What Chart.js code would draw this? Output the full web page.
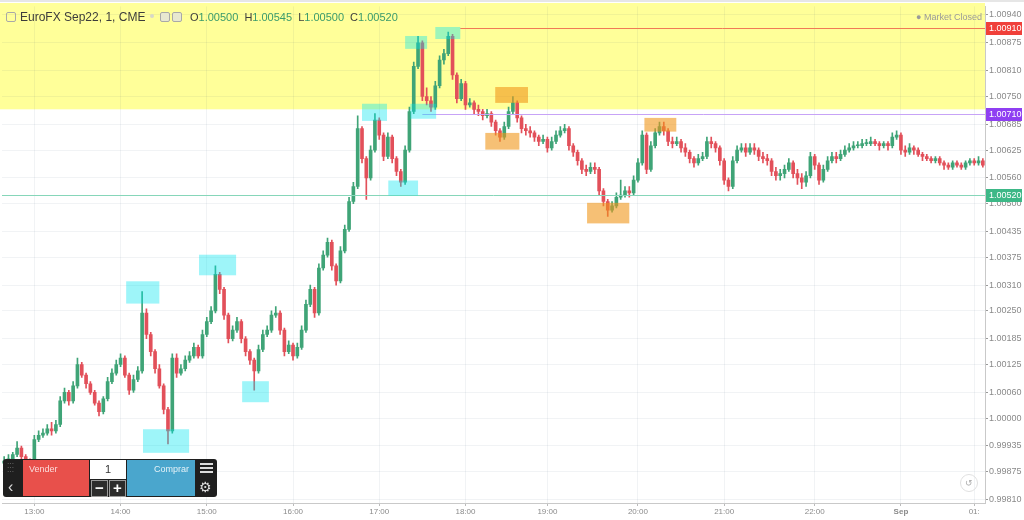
<!DOCTYPE html>
<html>
<head>
<meta charset="utf-8">
<script src="https://cdn.jsdelivr.net/npm/chart.js@4.4.1/dist/chart.umd.min.js"></script>
<style>
  html, body { margin: 0; padding: 0; background: #fff; }
  #wrap { position: relative; width: 1024px; height: 520px; overflow: hidden; font-family: "Liberation Sans", Arial, sans-serif; }
  #chart { position: absolute; left: 0; top: 0; }
  .abs { position: absolute; white-space: nowrap; }
  #title { left: 20px; top: 10px; font-size: 12px; color: #3c3c3c; }
  #ohlc { left: 190px; top: 11px; font-size: 11px; color: #3c3c3c; word-spacing: 3px; }
  #ohlc b { font-weight: normal; color: #3a9b6c; }
  #closed { left: 916px; top: 12px; font-size: 9px; color: #9a9a9a; }
  .icon { border: 1px solid #a8a8a8; border-radius: 2px; }
  #trade { left: 3px; top: 459px; width: 214px; height: 38px; background: #1f1f1f; border-radius: 3px; }
  #sell { left: 23px; top: 460px; width: 66px; height: 36px; background: #e8504b; color: rgba(255,255,255,0.8); font-size: 9px; }
  #buy { left: 127px; top: 460px; width: 68px; height: 36px; background: #4aa6cd; color: rgba(255,255,255,0.85); font-size: 9px; }
  #qty { left: 90px; top: 460px; width: 36px; height: 19px; background: #fff; color: #333; font-size: 11px; text-align: center; line-height: 19px; }
  .pm { top: 480px; width: 15px; height: 15px; background: #2c2c2c; border: 1px solid #9a9a9a; color: #fff; font-size: 15px; font-weight: bold; text-align: center; line-height: 14px; }
  #reset { left: 960px; top: 474px; width: 16px; height: 16px; border: 1px solid #e0e0e0; border-radius: 50%; color: #aaa; font-size: 9px; text-align: center; line-height: 16px; }
</style>
</head>
<body>
<div id="wrap">
  <canvas id="chart" width="1024" height="520"></canvas>
  <div class="abs icon" style="left:6px;top:12px;width:8px;height:8px;"></div>
  <div class="abs" id="title">EuroFX Sep22, 1, CME</div>
  <div class="abs" style="left:150px;top:14px;width:4px;height:4px;border-radius:50%;background:#d8d8c8;"></div>
  <div class="abs icon" style="left:160px;top:12px;width:8px;height:8px;background:#e8e8d0;"></div>
  <div class="abs icon" style="left:172px;top:12px;width:8px;height:8px;background:#e8e8d0;"></div>
  <div class="abs" id="ohlc"></div>
  <div class="abs" id="closed">&#9679; Market Closed</div>

  <div class="abs" id="trade"></div>
  <div class="abs" style="left:7px;top:462px;color:#777;font-size:7px;line-height:4px;">&#183;&#183;&#183;<br>&#183;&#183;&#183;<br>&#183;&#183;&#183;</div>
  <div class="abs" style="left:8px;top:478px;color:#ddd;font-size:16px;">&#8249;</div>
  <div class="abs" id="sell"><span style="position:absolute;left:6px;top:4px;">Vender</span></div>
  <div class="abs" id="qty">1</div>
  <div class="abs pm" style="left:91px;">&#8722;</div>
  <div class="abs pm" style="left:109px;">+</div>
  <div class="abs" id="buy"><span style="position:absolute;right:6px;top:4px;">Comprar</span></div>
  <div class="abs" style="left:200px;top:463px;width:13px;height:2px;background:#ddd;box-shadow:0 4px 0 #ddd,0 8px 0 #ddd;"></div>
  <div class="abs" style="left:199px;top:479px;color:#ddd;font-size:14px;">&#9881;</div>
  <div class="abs" id="reset">&#8634;</div>
</div>
<script>
// one-minute candles, 13:00 -> 01:00
const opens = [
  0.99895, 0.99900, 0.99905, 0.99915, 0.99930, 0.99910, 0.99900, 0.99890, 0.99950, 0.99960,
  0.99965, 0.99975, 0.99970, 0.99985, 1.00040, 1.00060, 1.00040, 1.00075, 1.00125, 1.00100,
  1.00080, 1.00060, 1.00035, 1.00015, 1.00045, 1.00085, 1.00105, 1.00125, 1.00140, 1.00100,
  1.00065, 1.00090, 1.00110, 1.00245, 1.00195, 1.00155, 1.00115, 1.00075, 1.00020, 0.99970,
  1.00140, 1.00105, 1.00115, 1.00135, 1.00145, 1.00165, 1.00145, 1.00195, 1.00225, 1.00250,
  1.00335, 1.00300, 1.00240, 1.00185, 1.00205, 1.00225, 1.00185, 1.00155, 1.00135, 1.00110,
  1.00160, 1.00195, 1.00205, 1.00240, 1.00245, 1.00205, 1.00155, 1.00170, 1.00145, 1.00165,
  1.00205, 1.00265, 1.00300, 1.00245, 1.00350, 1.00380, 1.00410, 1.00355, 1.00320, 1.00390,
  1.00440, 1.00505, 1.00540, 1.00675, 1.00605, 1.00560, 1.00625, 1.00695, 1.00660, 1.00610,
  1.00655, 1.00605, 1.00575, 1.00550, 1.00625, 1.00715, 1.00820, 1.00875, 1.00750, 1.00740,
  1.00725, 1.00775, 1.00835, 1.00850, 1.00890, 1.00800, 1.00745, 1.00780, 1.00730, 1.00735,
  1.00720, 1.00715, 1.00705, 1.00710, 1.00690, 1.00670, 1.00655, 1.00680, 1.00715, 1.00735,
  1.00700, 1.00675, 1.00670, 1.00665, 1.00655, 1.00645, 1.00650, 1.00630, 1.00645, 1.00660,
  1.00670, 1.00675, 1.00635, 1.00620, 1.00600, 1.00580, 1.00575, 1.00585, 1.00580, 1.00530,
  1.00505, 1.00485, 1.00495, 1.00515, 1.00520, 1.00530, 1.00525, 1.00555, 1.00595, 1.00660,
  1.00580, 1.00635, 1.00665, 1.00680, 1.00670, 1.00645, 1.00640, 1.00645, 1.00630, 1.00620,
  1.00605, 1.00595, 1.00605, 1.00610, 1.00645, 1.00640, 1.00630, 1.00600, 1.00555, 1.00540,
  1.00600, 1.00625, 1.00630, 1.00620, 1.00630, 1.00625, 1.00610, 1.00605, 1.00600, 1.00575,
  1.00565, 1.00570, 1.00580, 1.00595, 1.00570, 1.00560, 1.00550, 1.00565, 1.00610, 1.00590,
  1.00555, 1.00580, 1.00600, 1.00610, 1.00605, 1.00615, 1.00625, 1.00630, 1.00635, 1.00635,
  1.00640, 1.00640, 1.00645, 1.00640, 1.00635, 1.00640, 1.00635, 1.00655, 1.00660, 1.00625,
  1.00620, 1.00630, 1.00625, 1.00615, 1.00610, 1.00605, 1.00600, 1.00605, 1.00595, 1.00590,
  1.00585, 1.00595, 1.00590, 1.00585, 1.00595, 1.00600, 1.00595, 1.00600
];
const highs = [
  0.99910, 0.99915, 0.99920, 0.99945, 0.99935, 0.99915, 0.99905, 0.99960, 0.99970, 0.99975,
  0.99985, 0.99990, 0.99995, 1.00050, 1.00070, 1.00065, 1.00085, 1.00140, 1.00130, 1.00105,
  1.00085, 1.00065, 1.00040, 1.00050, 1.00095, 1.00115, 1.00135, 1.00150, 1.00145, 1.00105,
  1.00100, 1.00120, 1.00295, 1.00255, 1.00200, 1.00160, 1.00125, 1.00080, 1.00025, 1.00150,
  1.00150, 1.00125, 1.00145, 1.00155, 1.00175, 1.00170, 1.00205, 1.00235, 1.00260, 1.00355,
  1.00340, 1.00305, 1.00245, 1.00215, 1.00235, 1.00230, 1.00190, 1.00160, 1.00140, 1.00170,
  1.00205, 1.00215, 1.00250, 1.00260, 1.00250, 1.00210, 1.00180, 1.00175, 1.00175, 1.00215,
  1.00275, 1.00310, 1.00305, 1.00360, 1.00390, 1.00420, 1.00415, 1.00360, 1.00400, 1.00450,
  1.00515, 1.00550, 1.00705, 1.00680, 1.00610, 1.00635, 1.00710, 1.00700, 1.00665, 1.00665,
  1.00660, 1.00610, 1.00580, 1.00635, 1.00725, 1.00830, 1.00890, 1.00880, 1.00770, 1.00750,
  1.00785, 1.00845, 1.00860, 1.00900, 1.00895, 1.00805, 1.00790, 1.00785, 1.00745, 1.00740,
  1.00730, 1.00720, 1.00720, 1.00715, 1.00695, 1.00675, 1.00690, 1.00725, 1.00750, 1.00740,
  1.00705, 1.00685, 1.00680, 1.00670, 1.00660, 1.00660, 1.00655, 1.00655, 1.00670, 1.00680,
  1.00685, 1.00680, 1.00640, 1.00625, 1.00605, 1.00590, 1.00595, 1.00595, 1.00585, 1.00535,
  1.00510, 1.00505, 1.00525, 1.00555, 1.00540, 1.00540, 1.00565, 1.00605, 1.00670, 1.00665,
  1.00645, 1.00675, 1.00690, 1.00690, 1.00675, 1.00655, 1.00655, 1.00650, 1.00640, 1.00625,
  1.00610, 1.00615, 1.00620, 1.00655, 1.00655, 1.00645, 1.00635, 1.00605, 1.00560, 1.00610,
  1.00635, 1.00640, 1.00640, 1.00640, 1.00640, 1.00630, 1.00620, 1.00615, 1.00605, 1.00585,
  1.00580, 1.00590, 1.00605, 1.00600, 1.00580, 1.00570, 1.00575, 1.00620, 1.00615, 1.00595,
  1.00590, 1.00610, 1.00620, 1.00620, 1.00625, 1.00635, 1.00640, 1.00645, 1.00645, 1.00650,
  1.00650, 1.00655, 1.00650, 1.00645, 1.00645, 1.00645, 1.00665, 1.00670, 1.00665, 1.00635,
  1.00640, 1.00635, 1.00630, 1.00620, 1.00615, 1.00610, 1.00610, 1.00610, 1.00600, 1.00595,
  1.00600, 1.00600, 1.00595, 1.00600, 1.00605, 1.00605, 1.00610, 1.00605
];
const lows = [
  0.99885, 0.99895, 0.99900, 0.99910, 0.99905, 0.99890, 0.99880, 0.99885, 0.99945, 0.99955,
  0.99960, 0.99960, 0.99965, 0.99980, 1.00035, 1.00030, 1.00035, 1.00070, 1.00095, 1.00070,
  1.00055, 1.00030, 1.00005, 1.00010, 1.00040, 1.00080, 1.00100, 1.00120, 1.00095, 1.00055,
  1.00060, 1.00085, 1.00105, 1.00185, 1.00145, 1.00105, 1.00070, 1.00010, 0.99940, 0.99965,
  1.00095, 1.00100, 1.00110, 1.00130, 1.00140, 1.00140, 1.00140, 1.00190, 1.00220, 1.00245,
  1.00290, 1.00230, 1.00175, 1.00180, 1.00200, 1.00175, 1.00145, 1.00125, 1.00065, 1.00105,
  1.00155, 1.00190, 1.00200, 1.00235, 1.00195, 1.00145, 1.00150, 1.00135, 1.00140, 1.00160,
  1.00200, 1.00260, 1.00235, 1.00240, 1.00345, 1.00375, 1.00345, 1.00310, 1.00315, 1.00385,
  1.00435, 1.00500, 1.00535, 1.00595, 1.00510, 1.00555, 1.00620, 1.00650, 1.00600, 1.00605,
  1.00595, 1.00565, 1.00540, 1.00545, 1.00620, 1.00710, 1.00815, 1.00740, 1.00730, 1.00715,
  1.00720, 1.00770, 1.00825, 1.00845, 1.00790, 1.00735, 1.00740, 1.00720, 1.00725, 1.00710,
  1.00705, 1.00695, 1.00700, 1.00680, 1.00660, 1.00645, 1.00650, 1.00675, 1.00710, 1.00690,
  1.00665, 1.00660, 1.00655, 1.00645, 1.00635, 1.00640, 1.00620, 1.00625, 1.00640, 1.00655,
  1.00665, 1.00625, 1.00610, 1.00590, 1.00570, 1.00565, 1.00570, 1.00570, 1.00520, 1.00495,
  1.00470, 1.00480, 1.00490, 1.00510, 1.00515, 1.00515, 1.00520, 1.00550, 1.00590, 1.00570,
  1.00575, 1.00630, 1.00660, 1.00660, 1.00635, 1.00630, 1.00635, 1.00620, 1.00610, 1.00595,
  1.00585, 1.00590, 1.00600, 1.00605, 1.00630, 1.00620, 1.00590, 1.00545, 1.00530, 1.00535,
  1.00595, 1.00620, 1.00610, 1.00615, 1.00615, 1.00600, 1.00595, 1.00590, 1.00565, 1.00555,
  1.00555, 1.00560, 1.00575, 1.00560, 1.00545, 1.00535, 1.00540, 1.00560, 1.00580, 1.00545,
  1.00550, 1.00575, 1.00595, 1.00595, 1.00600, 1.00610, 1.00620, 1.00625, 1.00630, 1.00630,
  1.00635, 1.00635, 1.00635, 1.00625, 1.00630, 1.00625, 1.00630, 1.00650, 1.00615, 1.00610,
  1.00615, 1.00615, 1.00610, 1.00600, 1.00600, 1.00595, 1.00595, 1.00590, 1.00580, 1.00580,
  1.00580, 1.00585, 1.00580, 1.00580, 1.00590, 1.00590, 1.00590, 1.00585
];
const closes = [
  0.99900, 0.99905, 0.99915, 0.99930, 0.99910, 0.99900, 0.99890, 0.99950, 0.99960, 0.99965,
  0.99975, 0.99970, 0.99985, 1.00040, 1.00060, 1.00040, 1.00075, 1.00125, 1.00100, 1.00080,
  1.00060, 1.00035, 1.00015, 1.00045, 1.00085, 1.00105, 1.00125, 1.00140, 1.00100, 1.00065,
  1.00090, 1.00110, 1.00245, 1.00195, 1.00155, 1.00115, 1.00075, 1.00020, 0.99970, 1.00140,
  1.00105, 1.00115, 1.00135, 1.00145, 1.00165, 1.00145, 1.00195, 1.00225, 1.00250, 1.00335,
  1.00300, 1.00240, 1.00185, 1.00205, 1.00225, 1.00185, 1.00155, 1.00135, 1.00110, 1.00160,
  1.00195, 1.00205, 1.00240, 1.00245, 1.00205, 1.00155, 1.00170, 1.00145, 1.00165, 1.00205,
  1.00265, 1.00300, 1.00245, 1.00350, 1.00380, 1.00410, 1.00355, 1.00320, 1.00390, 1.00440,
  1.00505, 1.00540, 1.00675, 1.00605, 1.00560, 1.00625, 1.00695, 1.00660, 1.00610, 1.00655,
  1.00605, 1.00575, 1.00550, 1.00625, 1.00715, 1.00820, 1.00875, 1.00750, 1.00740, 1.00725,
  1.00775, 1.00835, 1.00850, 1.00890, 1.00800, 1.00745, 1.00780, 1.00730, 1.00735, 1.00720,
  1.00715, 1.00705, 1.00710, 1.00690, 1.00670, 1.00655, 1.00680, 1.00715, 1.00735, 1.00700,
  1.00675, 1.00670, 1.00665, 1.00655, 1.00645, 1.00650, 1.00630, 1.00645, 1.00660, 1.00670,
  1.00675, 1.00635, 1.00620, 1.00600, 1.00580, 1.00575, 1.00585, 1.00580, 1.00530, 1.00505,
  1.00485, 1.00495, 1.00515, 1.00520, 1.00530, 1.00525, 1.00555, 1.00595, 1.00660, 1.00580,
  1.00635, 1.00665, 1.00680, 1.00670, 1.00645, 1.00640, 1.00645, 1.00630, 1.00620, 1.00605,
  1.00595, 1.00605, 1.00610, 1.00645, 1.00640, 1.00630, 1.00600, 1.00555, 1.00540, 1.00600,
  1.00625, 1.00630, 1.00620, 1.00630, 1.00625, 1.00610, 1.00605, 1.00600, 1.00575, 1.00565,
  1.00570, 1.00580, 1.00595, 1.00570, 1.00560, 1.00550, 1.00565, 1.00610, 1.00590, 1.00555,
  1.00580, 1.00600, 1.00610, 1.00605, 1.00615, 1.00625, 1.00630, 1.00635, 1.00635, 1.00640,
  1.00640, 1.00645, 1.00640, 1.00635, 1.00640, 1.00635, 1.00655, 1.00660, 1.00625, 1.00620,
  1.00630, 1.00625, 1.00615, 1.00610, 1.00605, 1.00600, 1.00605, 1.00595, 1.00590, 1.00585,
  1.00595, 1.00590, 1.00585, 1.00595, 1.00600, 1.00595, 1.00600, 1.00590
];

// x axis: candle index of each time label
const timeLabels = ['13:00', '14:00', '15:00', '16:00', '17:00', '18:00', '19:00', '20:00', '21:00', '22:00', 'Sep', '01:'];
const timeIdx = [7, 27, 47, 67, 87, 107, 126, 147, 167, 188, 208, 225];

// y axis tick labels
const priceTicks = [0.99810, 0.99875, 0.99935, 1.00000, 1.00060, 1.00125, 1.00185, 1.00250, 1.00310, 1.00375,
  1.00435, 1.00500, 1.00560, 1.00625, 1.00685, 1.00750, 1.00810, 1.00875, 1.00940];

// header: O H L C
const headerOHLC = [1.00500, 1.00545, 1.00500, 1.00520];

// highlighted zone above this price
const zoneFloor = 1.00720;

// horizontal price levels and the candle they start from
const levelPrices = [1.00910, 1.00710, 1.00520];
const levelStart = [105.8, 97, -0.5];

// marker boxes: [from candle, to candle, low, high]
const cyanBoxes = [
  [28.3, 36.0, 1.00267, 1.00319],
  [32.2, 42.9, 0.99919, 0.99974],
  [45.2, 53.8, 1.00333, 1.00381],
  [55.2, 61.4, 1.00037, 1.00086],
  [83.0, 88.8, 1.00693, 1.00733],
  [89.1, 96.0, 1.00519, 1.00554],
  [93.0, 98.1, 1.00861, 1.00891],
  [94.2, 100.2, 1.00698, 1.00733],
  [100.0, 105.8, 1.00884, 1.00912]
];
const orangeBoxes = [
  [111.6, 119.5, 1.00626, 1.00665],
  [113.9, 121.5, 1.00735, 1.00772],
  [135.2, 145.0, 1.00454, 1.00502],
  [148.5, 155.9, 1.00668, 1.00700]
];

const UP = '#3fa477';
const DOWN = '#e2505a';
const levelColors = ['#f07a56', '#c7a3f7', '#86d6b9'];
const levelTagColors = ['#f0403a', '#8f3ff2', '#3db887'];

const o = ['O', 'H', 'L', 'C'];
document.getElementById('ohlc').innerHTML =
  headerOHLC.map((v, i) => o[i] + '<b>' + v.toFixed(5) + '</b>').join(' ');

const candleColors = closes.map((c, i) => c >= opens[i] ? UP : DOWN);

const overlay = {
  id: 'overlay',
  beforeDraw(chart) {
    const { ctx, chartArea: a, scales: { y } } = chart;
    ctx.save();
    ctx.fillStyle = '#e6e6e6';
    ctx.fillRect(0, 0, 1024, 2);
    ctx.fillStyle = '#ffff99';
    ctx.fillRect(0, 3, a.right, y.getPixelForValue(zoneFloor) - 3);
    ctx.restore();
  },
  afterDatasetsDraw(chart) {
    const { ctx, chartArea: a, scales: { x, y } } = chart;
    ctx.save();
    levelPrices.forEach((p, i) => {
      const py = Math.round(y.getPixelForValue(p)) + 0.5;
      ctx.strokeStyle = levelColors[i];
      ctx.lineWidth = 1;
      ctx.beginPath();
      ctx.moveTo(Math.max(a.left - 2, x.getPixelForValue(levelStart[i])), py);
      ctx.lineTo(a.right, py);
      ctx.stroke();
    });
    const drawBoxes = (list, fill) => {
      ctx.fillStyle = fill;
      list.forEach(b => {
        const x0 = x.getPixelForValue(b[0]), x1 = x.getPixelForValue(b[1]);
        const y0 = y.getPixelForValue(b[3]), y1 = y.getPixelForValue(b[2]);
        ctx.fillRect(x0, y0, x1 - x0, y1 - y0);
      });
    };
    drawBoxes(cyanBoxes, 'rgba(0,228,240,0.38)');
    drawBoxes(orangeBoxes, 'rgba(240,150,25,0.6)');
    ctx.restore();
  },
  afterDraw(chart) {
    const { ctx, chartArea: a, scales: { y } } = chart;
    ctx.save();
    ctx.font = '9px "Liberation Sans", Arial, sans-serif';
    ctx.textBaseline = 'middle';
    levelPrices.forEach((p, i) => {
      const py = Math.round(y.getPixelForValue(p));
      ctx.fillStyle = levelTagColors[i];
      ctx.fillRect(a.right + 1, py - 6, 36, 13);
      ctx.fillStyle = '#fff';
      ctx.fillText(p.toFixed(5), a.right + 4, py + 0.5);
    });
    ctx.restore();
  }
};

new Chart(document.getElementById('chart'), {
  type: 'bar',
  data: {
    labels: closes.map((_, i) => i),
    datasets: [
      {
        data: closes.map((c, i) => [opens[i], c]),
        backgroundColor: candleColors,
        barThickness: 3,
        minBarLength: 1,
        grouped: false,
        order: 0
      },
      {
        data: highs.map((h, i) => [lows[i], h]),
        backgroundColor: candleColors,
        barThickness: 1,
        grouped: false,
        order: 1
      }
    ]
  },
  options: {
    responsive: false,
    animation: false,
    layout: { padding: { top: 5, left: 2, right: 0, bottom: 0 } },
    plugins: { legend: { display: false }, tooltip: { enabled: false } },
    scales: {
      x: {
        offset: true,
        afterBuildTicks: s => { s.ticks = timeIdx.map(v => ({ value: v })); },
        afterFit: s => { s.height = 17; },
        grid: { offset: false, color: 'rgba(60,80,110,0.07)', tickColor: '#bbb', tickLength: 3 },
        border: { color: '#c9c9c9' },
        ticks: {
          autoSkip: false,
          maxRotation: 0,
          padding: 1,
          color: '#8a8a8a',
          font: ctx => ({ size: 8, family: '"Liberation Sans", Arial, sans-serif', weight: ctx.tick && ctx.tick.value === 208 ? 'bold' : 'normal' }),
          callback: v => timeLabels[timeIdx.indexOf(v)]
        }
      },
      y: {
        position: 'right',
        min: 0.99802,
        max: 1.00960,
        afterBuildTicks: s => { s.ticks = priceTicks.map(v => ({ value: v })); },
        afterFit: s => { s.width = 39; },
        grid: { color: 'rgba(60,80,110,0.07)', tickColor: '#999', tickLength: 3 },
        border: { color: '#c9c9c9' },
        ticks: {
          padding: 1,
          color: '#8a8a8a',
          font: { size: 9, family: '"Liberation Sans", Arial, sans-serif' },
          callback: v => v.toFixed(5)
        }
      }
    }
  },
  plugins: [overlay]
});
</script>
</body>
</html>
